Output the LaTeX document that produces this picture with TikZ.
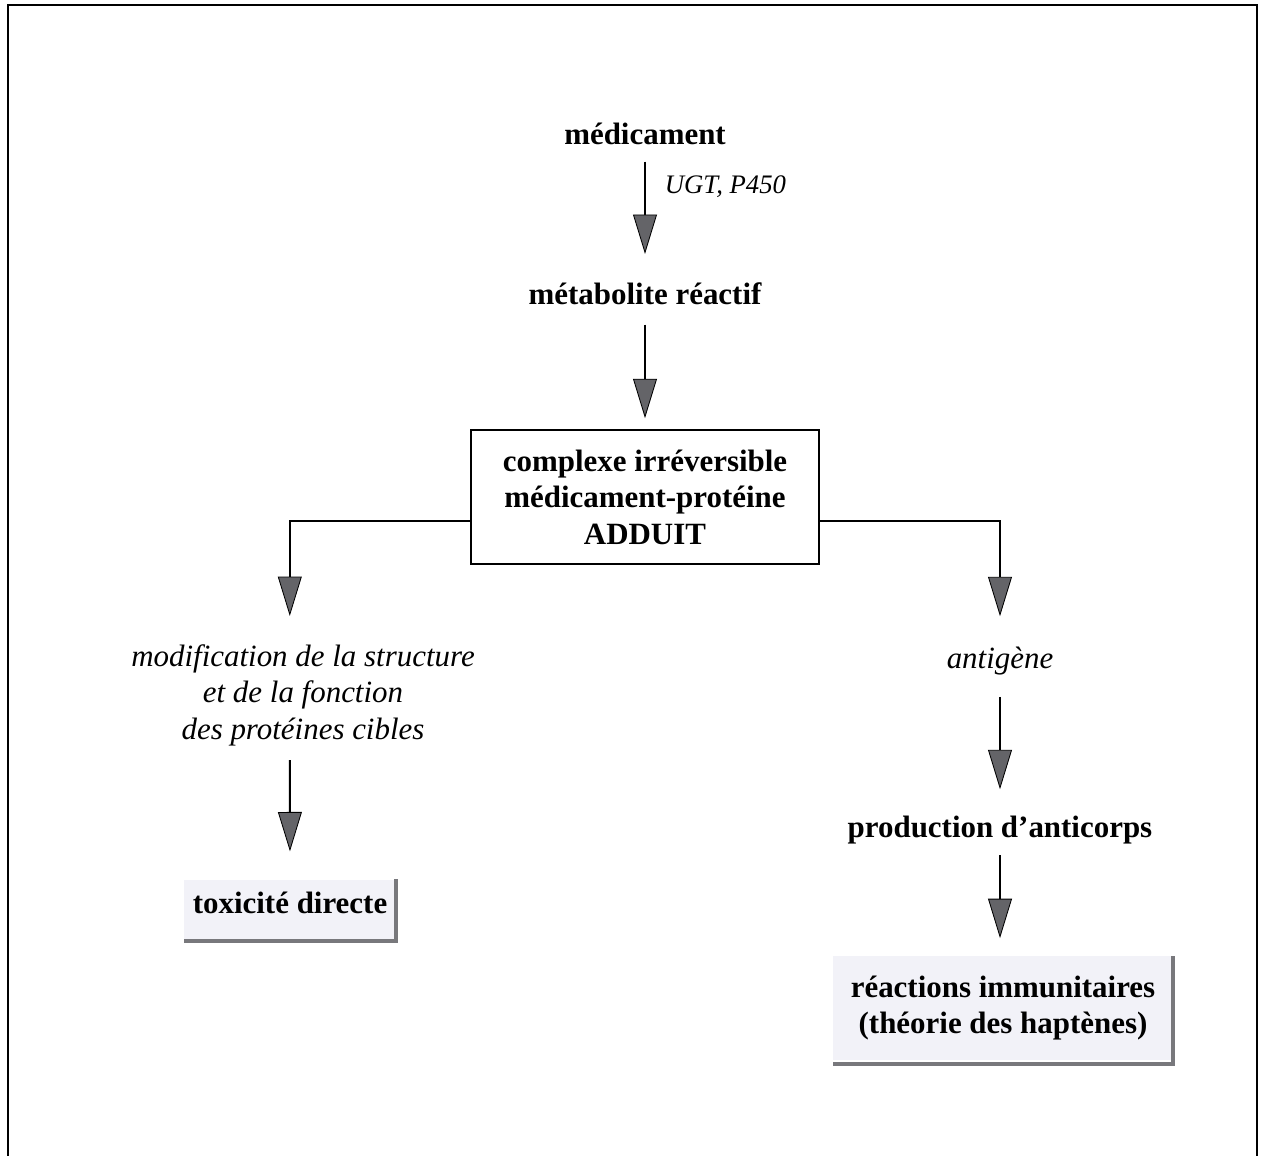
\documentclass[tikz,border=0pt]{standalone}
\usepackage{fontspec}
\setmainfont{Liberation Serif}
\usepackage{tikz}
\usetikzlibrary{arrows.meta}
\definecolor{tipgray}{RGB}{100,100,104}
\definecolor{shadowgray}{RGB}{120,120,124}
\definecolor{boxfill}{RGB}{242,242,248}
\tikzset{
  lbl/.style={font=\fontsize{22}{26}\selectfont\bfseries, inner sep=0pt},
  itl/.style={font=\fontsize{22}{26}\selectfont\itshape, inner sep=0pt, align=center},
  arr/.style={line width=1.4pt, -{Triangle[length=28pt,width=17pt,fill=tipgray,line width=0.6pt]},
    shorten <=0.4cm, shorten >=0.7cm},
  shadowbox/.style={lbl, fill=boxfill, inner xsep=0.22cm},
  shadowline/.style={draw=shadowgray, line width=2.8pt}
}

\begin{document}
\begin{tikzpicture}[x=0.025cm,y=-0.025cm]

\useasboundingbox (0,0) rectangle (1268,1156);
\draw[line width=2pt] (8,1180) -- (8,5) -- (1257,5) -- (1257,1180);

\node[lbl,anchor=base] (med) at (645,145) {médicament};
\node[lbl,anchor=base] (met) at (645,304) {métabolite réactif};
\node[lbl,draw,line width=1.4pt,align=center,minimum width=8.7cm,minimum height=3.35cm] (add) at (645,497)
  {complexe irréversible\\médicament-protéine\\ADDUIT};

\draw[arr] (med) -- node[pos=0.3,right=0.47cm,font=\fontsize{19}{23}\selectfont\itshape,inner sep=0pt] (ugt) {UGT, P450} (met);
\draw[arr,shorten <=0.5cm,shorten >=0.27cm] (met) -- (add);

\node[itl] (mod) at (303,695) {modification de la structure\\et de la fonction\\des protéines cibles};
\node[shadowbox,inner ysep=0.3cm,text depth=0.38cm] (tox) at (290,910) {toxicité directe};
\draw[shadowline] (tox.north east) -- (tox.south east) -- (tox.south west);

\draw[arr,shorten <=0pt] ([yshift=-0.6cm]add.west) -| ([xshift=-0.33cm]mod.north);
\draw[arr,shorten <=0.35cm] ([xshift=-0.33cm]mod.south) -- (tox.north);

\node[itl,anchor=base] (ant) at (1000,668) {antigène};
\node[lbl,anchor=base] (prod) at (1000,837) {production d’anticorps};
\node[shadowbox,align=center,minimum width=8.5cm,minimum height=2.58cm] (reac) at (1003,1008)
  {réactions immunitaires\\(théorie des haptènes)};
\draw[shadowline] (reac.north east) -- ([yshift=-0.1cm]reac.south east) -- ([yshift=-0.1cm]reac.south west);

\draw[arr,shorten <=0pt,shorten >=0.75cm] ([yshift=-0.6cm]add.east) -| (ant.north);
\draw[arr,shorten <=0.55cm,shorten >=0.65cm] (ant) -- (prod);
\draw[arr,shorten <=0.28cm,shorten >=0.45cm] (prod.south) -- (prod.south |- reac.north);

\end{tikzpicture}
\end{document}
